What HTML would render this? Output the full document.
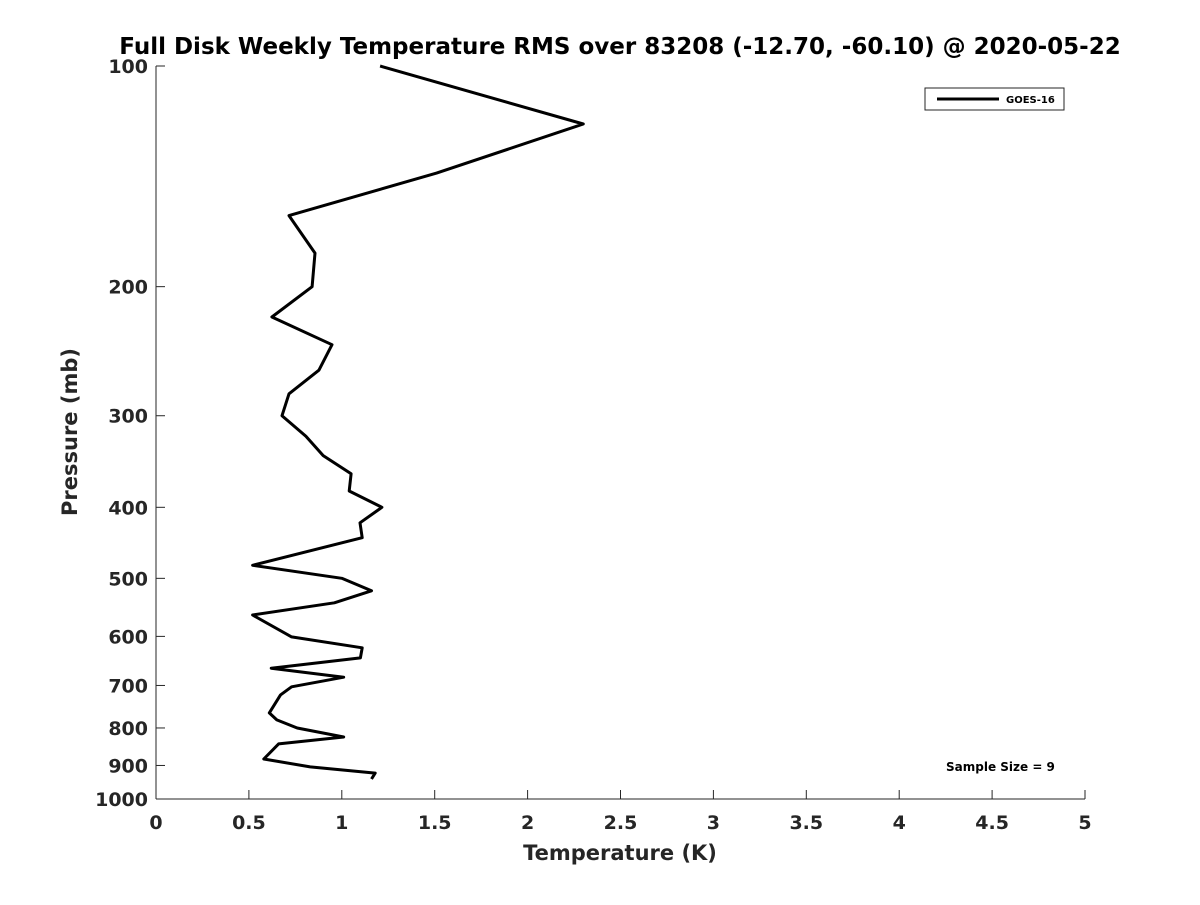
<!DOCTYPE html>
<html><head><meta charset="utf-8"><style>body{margin:0;background:#fff}svg text{font-family:"DejaVu Sans","Liberation Sans",sans-serif;font-weight:bold;fill:#262626}</style></head>
<body>
<svg id="chart" width="1200" height="900" xmlns="http://www.w3.org/2000/svg">
<rect width="1200" height="900" fill="#fff"/>
<text x="620" y="54" text-anchor="middle" font-size="23" style="fill:#000">Full Disk Weekly Temperature RMS over 83208 (-12.70, -60.10) @ 2020-05-22</text>
<g id="axes"></g>
<path id="series" fill="none" stroke="#000" stroke-width="3" stroke-linejoin="round"/>
<text x="620" y="860" text-anchor="middle" font-size="21">Temperature (K)</text>
<text transform="translate(77,432) rotate(-90)" text-anchor="middle" font-size="21">Pressure (mb)</text>
<g>
<rect x="925" y="88" width="139" height="22" fill="#fff" stroke="#262626" stroke-width="1"/>
<line x1="937" y1="99" x2="999" y2="99" stroke="#000" stroke-width="3"/>
<text x="1006" y="103" font-size="10" style="fill:#000">GOES-16</text>
</g>
<text x="946" y="771" font-size="12" style="fill:#000">Sample Size = 9</text>
</svg>
<script>
const temps=[1.206,2.30,1.51,0.716,0.856,0.84,0.624,0.947,0.877,0.716,0.678,0.807,0.90,1.05,1.04,1.216,1.098,1.11,0.52,1.0,1.16,0.96,0.52,0.73,1.11,1.10,0.62,1.01,0.73,0.67,0.61,0.65,0.76,1.01,0.66,0.58,0.83,1.18,1.16];
const pressures=[100,120,140,160,180,200,220,240,260,280,300,320,340,360,380,400,420,440,480,500,520,540,561,601,622,642,663,682,703,721,763,780,800,823,841,882,904,922,939];
const xTicks=[0,0.5,1,1.5,2,2.5,3,3.5,4,4.5,5];
const yTicks=[100,200,300,400,500,600,700,800,900,1000];
const X0=156,X1=1085,Y0=66,Y1=799;
const xs=v=>X0+(v-0)/5*(X1-X0);
const ys=p=>Y0+Math.log10(p/100)*(Y1-Y0);
const NS="http://www.w3.org/2000/svg";
const ax=document.getElementById('axes');
function mk(t,a){const e=document.createElementNS(NS,t);for(const k in a)e.setAttribute(k,a[k]);ax.appendChild(e);return e;}
const xl=mk('line',{x1:X0,y1:Y1,x2:X1,y2:Y1,stroke:'#262626','stroke-width':1});


const yl=mk('line',{x1:X0,y1:Y0,x2:X0,y2:Y1,stroke:'#262626','stroke-width':1});


xTicks.forEach(v=>{const x=xs(v);
const t=mk('line',{x1:x,y1:Y1,x2:x,y2:Y1-9,stroke:'#262626'});


const l=mk('text',{x:x,y:Y1+30,'text-anchor':'middle','font-size':19});l.textContent=String(v);

});
yTicks.forEach(p=>{const y=ys(p);
const t=mk('line',{x1:X0,y1:y,x2:X0+9,y2:y,stroke:'#262626'});


const l=mk('text',{x:X0-8,y:y+7,'text-anchor':'end','font-size':19});l.textContent=String(p);

});
document.getElementById('series').setAttribute('d',temps.map((t,i)=>(i?'L':'M')+xs(t).toFixed(1)+','+ys(pressures[i]).toFixed(1)).join(''));
</script>
</body></html>
